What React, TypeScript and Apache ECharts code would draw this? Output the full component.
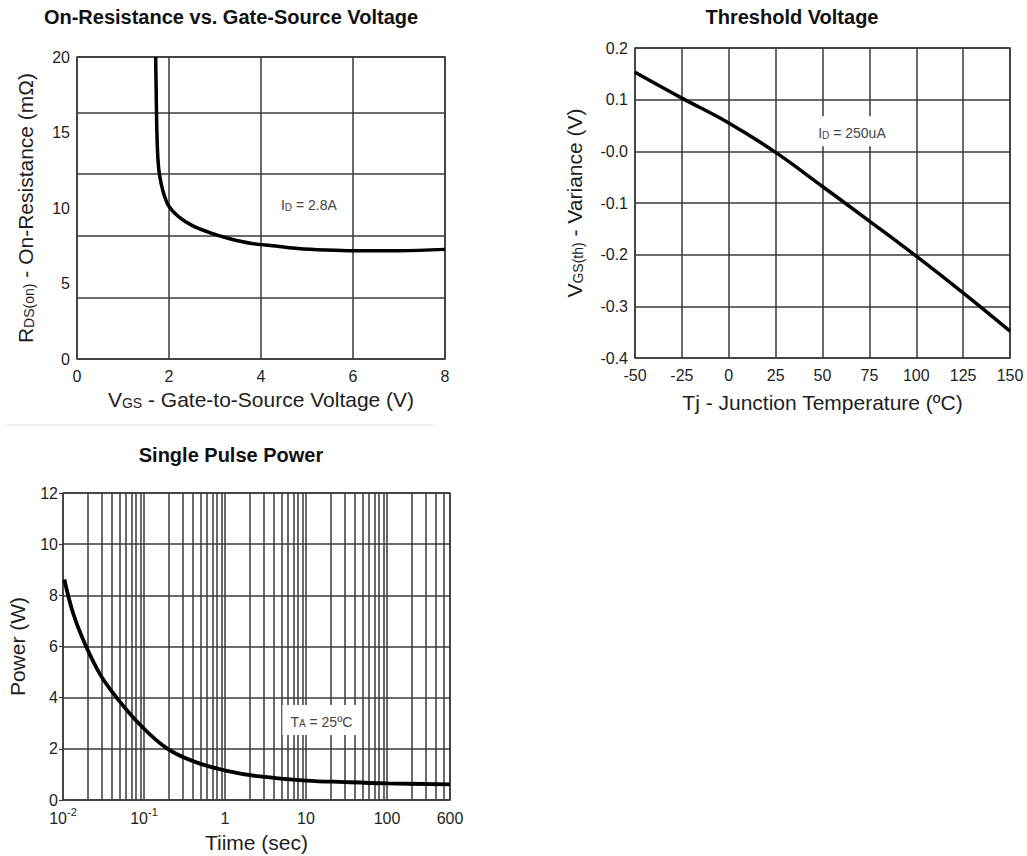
import React, { useEffect, useRef } from 'react';
import * as echarts from 'echarts';

const FONT = "'Liberation Sans', Arial, Helvetica, sans-serif";
const GRID_COLOR = '#3a3a3a';
const TEXT_COLOR = '#1e1e1e';
const NOTE_COLOR = '#444444';

// ---------- Chart 1: On-Resistance vs. Gate-Source Voltage ----------
const vgsVolts = [1.71, 1.72, 1.73, 1.75, 1.78, 1.83, 1.9, 2.0, 2.2, 2.5, 2.9, 3.3, 3.8, 4.4, 4.8, 5.4, 6.0, 7.0, 8.0];
const rdsOnMilliOhm = [20, 18, 16, 13.8, 12.5, 11.6, 10.8, 10.1, 9.45, 8.85, 8.35, 7.98, 7.65, 7.45, 7.32, 7.22, 7.17, 7.17, 7.26];
const idNotePos = [5.04, 10.33];

// ---------- Chart 2: Threshold Voltage ----------
const tjCelsius = [-50, -25, 0, 25, 50, 75, 100, 125, 150];
const vthVarianceV = [0.153, 0.103, 0.055, -0.002, -0.068, -0.135, -0.203, -0.274, -0.348];
const idThNotePos = [65.7, 0.039];

// ---------- Chart 3: Single Pulse Power ----------
const pulseTimeSec = [0.0104, 0.0134, 0.0187, 0.0286, 0.046, 0.089, 0.19, 0.41, 1.05, 2.7, 10, 30, 100, 600];
const pulsePowerW = [8.62, 7.28, 6.1, 4.92, 4.0, 2.95, 2.03, 1.51, 1.14, 0.92, 0.76, 0.7, 0.65, 0.61];
const timeTickValues = [0.01, 0.1, 1, 10, 100, 600];
const timeTickLabels = ['{b|10}{p|-2}', '{b|10}{p|-1}', '{b|1}', '{b|10}', '{b|100}', '{b|600}'];
const taNotePos = [15.5, 3.13];

// minor (1..9 per decade) grid values of the logarithmic time axis
const timeDecades = [0.01, 0.1, 1, 10, 100];
const minorTimeGrid: number[] = [];
for (const d of timeDecades) {
  for (let m = 2; m <= 9; m++) {
    const v = Number((m * d).toPrecision(3));
    if (v < 600) minorTimeGrid.push(v);
  }
}

const gridLine = { show: true, lineStyle: { color: GRID_COLOR, width: 1.5, type: 'solid' as const } };
const tickLabel = (margin: number) => ({ fontSize: 16, color: TEXT_COLOR, fontFamily: FONT, margin });
const nameStyle = {
  fontFamily: FONT,
  fontSize: 21,
  color: TEXT_COLOR,
  rich: {
    n: { fontFamily: FONT, fontSize: 21, color: TEXT_COLOR, lineHeight: 24, verticalAlign: 'bottom' },
    s: { fontFamily: FONT, fontSize: 14, color: TEXT_COLOR, lineHeight: 19, verticalAlign: 'bottom' },
  },
};
const titleStyle = { fontFamily: FONT, fontSize: 20, fontWeight: 'bold', color: '#111' };
const noteLabel = (text: string) => ({
  show: true,
  position: 'inside',
  formatter: text,
  backgroundColor: '#ffffff',
  padding: [6, 8],
  rich: {
    a: { fontFamily: FONT, fontSize: 14, color: NOTE_COLOR, lineHeight: 18, verticalAlign: 'bottom' },
    s: { fontFamily: FONT, fontSize: 10, color: NOTE_COLOR, lineHeight: 14, verticalAlign: 'bottom' },
  },
});
const notePoint = (text: string, pos: number[]) => ({
  z: 10,
  silent: true,
  symbol: 'circle',
  symbolSize: 1,
  itemStyle: { color: 'rgba(0,0,0,0)' },
  label: noteLabel(text),
  emphasis: { disabled: true },
  data: [{ coord: pos }],
});
const hidden = { axisLine: { show: false }, axisTick: { show: false } };

export default function App() {
  const ref = useRef<HTMLDivElement>(null);

  useEffect(() => {
    if (!ref.current) return;
    const chart = echarts.init(ref.current, undefined, { renderer: 'svg' });

    const option: any = {
      animation: false,
      backgroundColor: '#ffffff',
      title: [
        { text: 'On-Resistance vs. Gate-Source Voltage', left: 231, top: 7, padding: 0, textAlign: 'center', textStyle: titleStyle },
        { text: 'Threshold Voltage', left: 792, top: 7, padding: 0, textAlign: 'center', textStyle: titleStyle },
        { text: 'Single Pulse Power', left: 231, top: 445, padding: 0, textAlign: 'center', textStyle: titleStyle },
      ],
      graphic: [
        { type: 'line', shape: { x1: 7, y1: 425, x2: 433, y2: 425 }, style: { stroke: '#dddddd', lineWidth: 1 }, silent: true },
      ],
      grid: [
        { left: 77, top: 57, width: 368, height: 302, show: true, borderColor: GRID_COLOR, borderWidth: 1.5, backgroundColor: 'transparent', containLabel: false, outerBoundsMode: 'none' },
        { left: 635, top: 48, width: 375, height: 310, show: true, borderColor: GRID_COLOR, borderWidth: 1.5, backgroundColor: 'transparent', containLabel: false, outerBoundsMode: 'none' },
        { left: 63, top: 493, width: 387, height: 307, show: true, borderColor: GRID_COLOR, borderWidth: 1.5, backgroundColor: 'transparent', containLabel: false, outerBoundsMode: 'none' },
      ],
      xAxis: [
        {
          gridIndex: 0, type: 'value', min: 0, max: 8, interval: 2, ...hidden,
          splitLine: gridLine, axisLabel: tickLabel(9),
          name: '{n|V}{s|GS}{n| - Gate-to-Source Voltage (V)}', nameLocation: 'middle', nameGap: 27,
          nameMoveOverlap: false, nameTextStyle: nameStyle,
        },
        {
          gridIndex: 1, type: 'value', min: -50, max: 150, interval: 25, ...hidden,
          splitLine: gridLine, axisLabel: tickLabel(9),
          name: 'Tj - Junction Temperature (ºC)', nameLocation: 'middle', nameGap: 34,
          nameMoveOverlap: false, nameTextStyle: nameStyle,
        },
        {
          gridIndex: 2, type: 'log', logBase: 10, min: 0.01, max: 600, ...hidden,
          splitLine: gridLine,
          axisLabel: {
            ...tickLabel(6),
            formatter: (v: number) => {
              const i = timeTickValues.findIndex((t) => Math.abs(t - v) / t < 1e-6);
              return i >= 0 ? timeTickLabels[i] : '';
            },
            rich: {
              b: { fontFamily: FONT, fontSize: 16, color: TEXT_COLOR, lineHeight: 20, verticalAlign: 'bottom' },
              p: { fontFamily: FONT, fontSize: 11, color: TEXT_COLOR, lineHeight: 10, verticalAlign: 'top' },
            },
          },
          name: 'Tiime (sec)', nameLocation: 'middle', nameGap: 32,
          nameMoveOverlap: false, nameTextStyle: nameStyle,
        },
      ],
      yAxis: [
        {
          gridIndex: 0, type: 'value', min: 0, max: 20, interval: 5, ...hidden,
          splitLine: { show: false }, axisLabel: tickLabel(7),
          name: '{n|R}{s|DS(on)}{n| - On-Resistance (mΩ)}', nameLocation: 'middle', nameGap: 41,
          nameMoveOverlap: false, nameTextStyle: nameStyle,
        },
        {
          gridIndex: 0, type: 'value', min: 0, max: 4.9, interval: 1, ...hidden,
          axisLabel: { show: false }, splitLine: gridLine,
        },
        {
          gridIndex: 1, type: 'value', min: -0.4, max: 0.2, interval: 0.1, ...hidden,
          splitLine: gridLine,
          axisLabel: {
            ...tickLabel(7),
            formatter: (v: number) => (Math.abs(v) < 1e-9 ? '-0.0' : v.toFixed(1)),
          },
          name: '{n|V}{s|GS(th)}{n| - Variance (V)}', nameLocation: 'middle', nameGap: 50,
          nameMoveOverlap: false, nameTextStyle: nameStyle,
        },
        {
          gridIndex: 2, type: 'value', min: 0, max: 12, interval: 2,
          axisLine: { show: false },
          axisTick: { show: true, length: 4, lineStyle: { color: GRID_COLOR, width: 1.2 } },
          splitLine: gridLine, axisLabel: tickLabel(5),
          name: 'Power (W)', nameLocation: 'middle', nameGap: 35,
          nameMoveOverlap: false, nameTextStyle: nameStyle,
        },
      ],
      series: [
        {
          type: 'line', xAxisIndex: 0, yAxisIndex: 0,
          data: vgsVolts.map((v, i) => [v, rdsOnMilliOhm[i]]),
          showSymbol: false, smooth: 0.35,
          lineStyle: { color: '#000', width: 3.5 },
          markPoint: notePoint('{a|I}{s|D}{a| = 2.8A}', idNotePos),
        },
        {
          type: 'line', xAxisIndex: 1, yAxisIndex: 2,
          data: tjCelsius.map((v, i) => [v, vthVarianceV[i]]),
          showSymbol: false, smooth: 0.4,
          lineStyle: { color: '#000', width: 3.5 },
          markPoint: notePoint('{a|I}{s|D}{a| = 250uA}', idThNotePos),
        },
        {
          type: 'line', xAxisIndex: 2, yAxisIndex: 3,
          data: pulseTimeSec.map((v, i) => [v, pulsePowerW[i]]),
          showSymbol: false, smooth: 0.4,
          lineStyle: { color: '#000', width: 3.8 },
          markLine: {
            z: 1, silent: true, symbol: ['none', 'none'],
            label: { show: false }, emphasis: { disabled: true },
            lineStyle: { color: GRID_COLOR, width: 1.5, type: 'solid' },
            data: minorTimeGrid.map((v) => ({ xAxis: v })),
          },
          markPoint: notePoint('{a|T}{s|A}{a| = 25ºC}', taNotePos),
        },
      ],
    };

    chart.setOption(option);
    return () => chart.dispose();
  }, []);

  return (
    <div
      ref={ref}
      style={{ position: 'absolute', left: 0, top: 0, width: 1027, height: 856, background: '#fff' }}
    />
  );
}
